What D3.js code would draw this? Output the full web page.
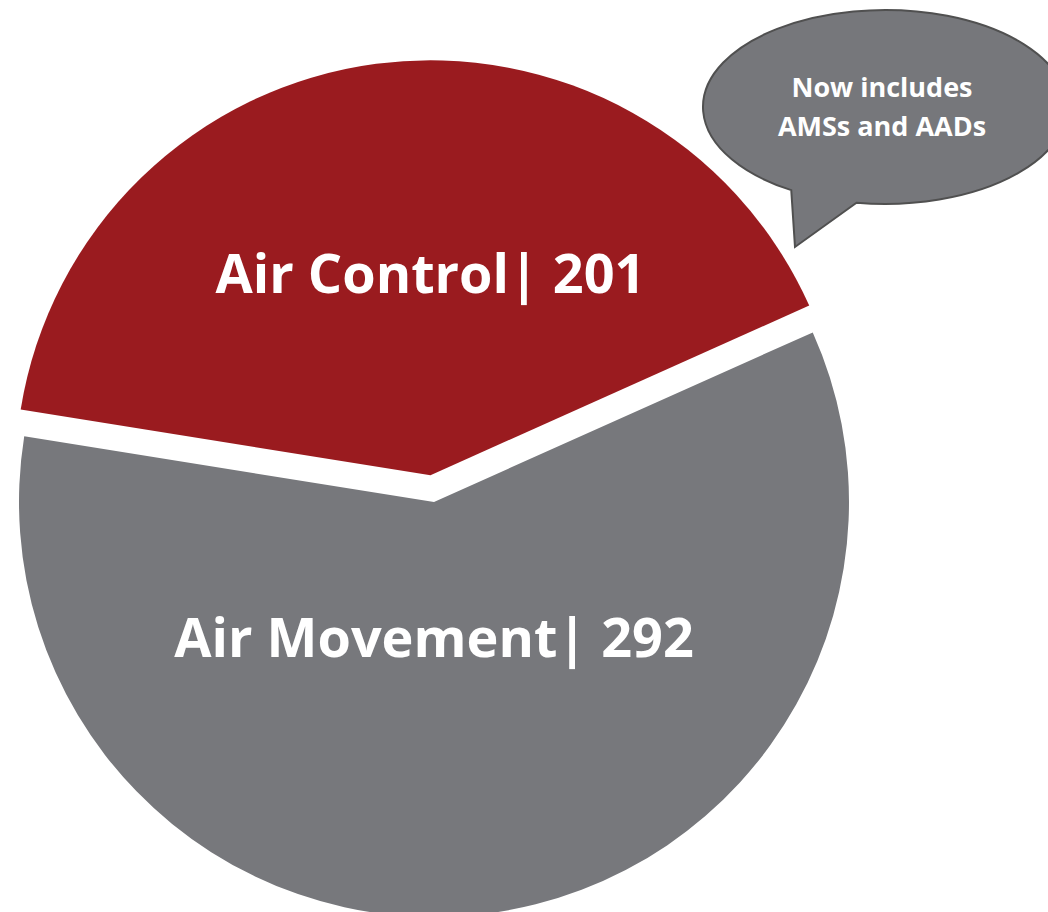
<!DOCTYPE html>
<html>
<head>
<meta charset="utf-8">
<script src="https://cdn.jsdelivr.net/npm/d3@7"></script>
<style>
  html, body { margin: 0; padding: 0; background: #fff; }
  svg { display: block; }
</style>
</head>
<body>
<div id="chart"></div>
<script>
// slices
const categories = ['Air Control', 'Air Movement'];
const counts = [201, 292];
const sliceColors = ['#9a1b1f', '#77787c'];
const exploded = [true, false];

// callout
const calloutLines = ['Now includes', 'AMSs and AADs'];

const width = 1048;
const height = 912;
const cx = 434;
const cy = 502;
const radius = 415;
const explodeDist = 27;
const startDeg = -80.9;
const labelRadius = [0.49, 0.33];
const fontFamily = '"Open Sans", Lato, sans-serif';

const sections = categories.map((name, i) => ({
  name, count: counts[i], color: sliceColors[i], exploded: exploded[i], labelR: labelRadius[i],
}));

const svg = d3.select('#chart')
  .append('svg')
  .attr('width', width)
  .attr('height', height);

const pie = d3.pie()
  .sort(null)
  .startAngle(startDeg * Math.PI / 180)
  .endAngle((startDeg + 360) * Math.PI / 180)
  .value(d => d.count);

const arc = d3.arc()
  .innerRadius(0)
  .outerRadius(radius);

// offset of the slice centre (exploded slices move along their bisector)
function shift(d) {
  if (!d.data.exploded) return [0, 0];
  const mid = (d.startAngle + d.endAngle) / 2;
  return [Math.sin(mid) * explodeDist, -Math.cos(mid) * explodeDist];
}

const g = svg.append('g')
  .attr('transform', `translate(${cx},${cy})`);

const slices = g.selectAll('.slice')
  .data(pie(sections))
  .enter()
  .append('g')
  .attr('class', 'slice')
  .attr('transform', d => `translate(${shift(d)})`);

slices.append('path')
  .attr('d', arc)
  .attr('fill', d => d.data.color);

// labels sit on the vertical through the slice centre
slices.append('text')
  .attr('x', 0)
  .attr('y', (d) => {
    const mid = (d.startAngle + d.endAngle) / 2;
    return -Math.cos(mid) * radius * d.data.labelR;
  })
  .attr('dy', '0.36em')
  .attr('text-anchor', 'middle')
  .attr('font-family', fontFamily)
  .attr('font-weight', 'bold')
  .attr('font-size', 54)
  .attr('fill', '#fff')
  .text(d => `${d.data.name}| ${d.data.count}`);

// speech bubble callout
const bx = 885;
const by = 107;
const rx = 182;
const ry = 97;
const a1 = 121 * Math.PI / 180;
const a2 = 99 * Math.PI / 180;
const p1 = [bx + rx * Math.cos(a1), by + ry * Math.sin(a1)];
const p2 = [bx + rx * Math.cos(a2), by + ry * Math.sin(a2)];
const tip = [795, 247];

svg.append('path')
  .attr('d', `M${p1} A${rx},${ry} 0 1 1 ${p2} L${tip} Z`)
  .attr('fill', '#76777b')
  .attr('stroke', '#505050')
  .attr('stroke-width', 2)
  .attr('stroke-linejoin', 'miter');

svg.append('g')
  .selectAll('text')
  .data(calloutLines)
  .enter()
  .append('text')
  .attr('x', 882)
  .attr('y', (d, i) => 97 + i * 39)
  .attr('text-anchor', 'middle')
  .attr('font-family', fontFamily)
  .attr('font-weight', 'bold')
  .attr('font-size', 27)
  .attr('fill', '#fff')
  .text(d => d);
</script>
</body>
</html>
